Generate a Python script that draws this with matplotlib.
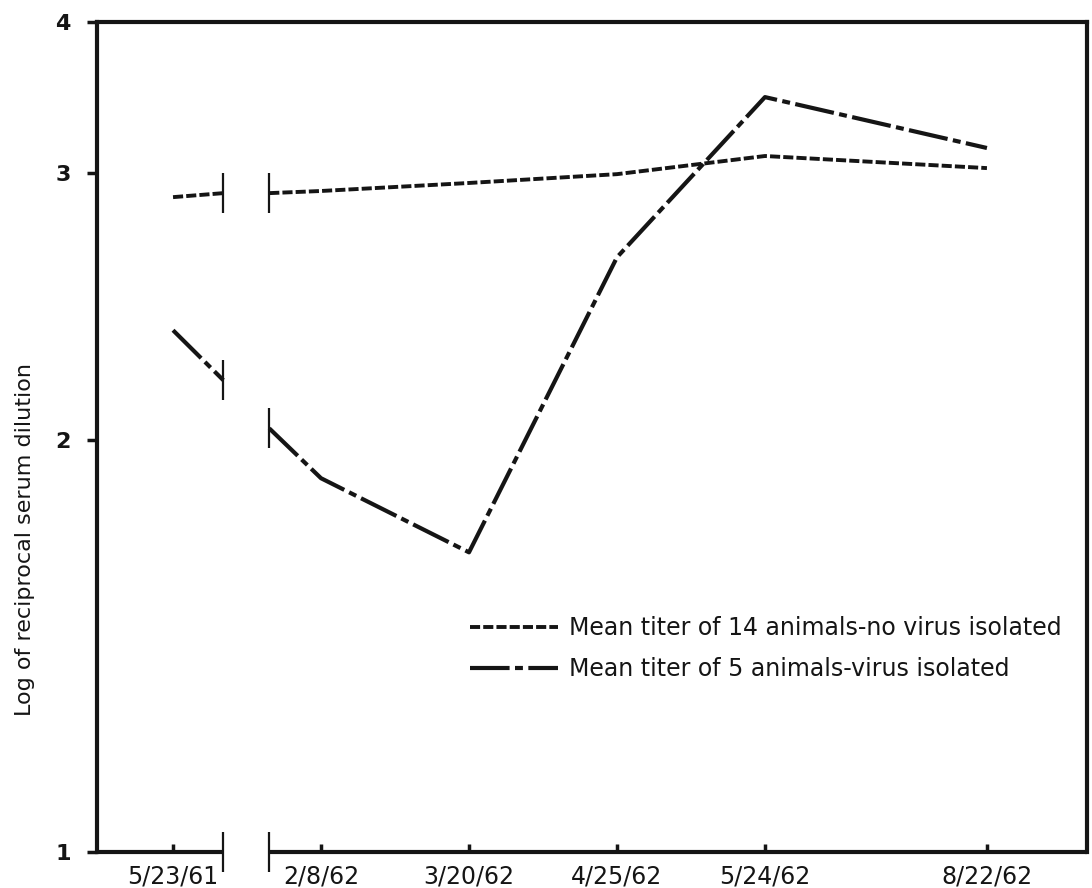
import numpy as np
import matplotlib
matplotlib.use("Agg")
import matplotlib.pyplot as plt

# ---- data ----
dates = ['5/23/61', '2/8/62', '3/20/62', '4/25/62', '5/24/62', '8/22/62']
date_pos = [0, 1, 2, 3, 4, 5.5]      # spacing along the x axis
gap = (0.34, 0.65)                   # broken section between 1961 and 1962

# mean log titers
no_virus = [2.91, 2.933, 2.963, 2.996, 3.113, 3.033]
no_virus_gap = [2.925, 2.925]        # where the line is cut at the break
virus = [2.412, 1.908, 1.728, 2.685, 3.503, 3.166]
virus_gap = [2.225, 2.045]

y_ticks = [1, 2, 3, 4]
# the printed y axis is not evenly spaced: height fraction of each tick
y_tick_frac = [0, 0.496, 0.818, 1.0]

label_nv = 'Mean titer of 14 animals-no virus isolated'
label_v = 'Mean titer of 5 animals-virus isolated'

ink = '#151515'


def fwd(v):
    return np.interp(v, y_ticks, y_tick_frac)


def inv(f):
    return np.interp(f, y_tick_frac, y_ticks)


fig = plt.figure(figsize=(10.92, 8.88), dpi=100)
ax = fig.add_axes([0.0888, 0.0405, 0.9066, 0.9347])
ax.set_yscale('function', functions=(fwd, inv))
ax.set_ylim(1, 4)
xlo, xhi = -0.514, 6.176
ax.set_xlim(xlo, xhi)

style_nv = dict(color=ink, lw=2.8, dashes=(2.6, 0.8))
style_v = dict(color=ink, lw=3.0, dashes=(9.5, 1.3, 1.9, 1.3))
mark = dict(ls='none', marker='|', ms=29, mew=1.6, color=ink)

# 14 animals, no virus
ax.plot([date_pos[0], gap[0]], [no_virus[0], no_virus_gap[0]], **style_nv)
ax.plot([gap[1]] + date_pos[1:], [no_virus_gap[1]] + no_virus[1:], label=label_nv, **style_nv)
ax.plot(gap, no_virus_gap, **mark)

# 5 animals, virus isolated
ax.plot([date_pos[0], gap[0]], [virus[0], virus_gap[0]], **style_v)
ax.plot([gap[1]] + date_pos[1:], [virus_gap[1]] + virus[1:], label=label_v, **style_v)
ax.plot(gap, virus_gap, **mark)

# frame: bottom line is broken at the gap
for side in ['left', 'top', 'right']:
    ax.spines[side].set_linewidth(3)
    ax.spines[side].set_color(ink)
ax.spines['bottom'].set_visible(False)
for a, b in [(xlo, gap[0]), (gap[1], xhi)]:
    ax.plot([a, b], [1, 1], color=ink, lw=3, clip_on=False, solid_capstyle='butt')
ax.plot(gap, [1, 1], clip_on=False, **mark)

ax.set_xticks(date_pos, dates)
ax.set_yticks(y_ticks, [str(t) for t in y_ticks])
ax.yaxis.set_minor_locator(matplotlib.ticker.NullLocator())
ax.tick_params(axis='x', direction='in', length=6, width=2.5, pad=9,
               labelsize=17, colors=ink)
ax.tick_params(axis='y', direction='out', length=7, width=2.5, pad=12,
               labelsize=16, colors=ink)
for t in ax.get_yticklabels():
    t.set_fontweight('bold')

ax.set_ylabel('Log of reciprocal serum dilution', fontsize=16, color=ink)
ax.yaxis.set_label_coords(-0.0626, 0.376)

ax.legend(loc='upper left', bbox_to_anchor=(0.377, 0.284), frameon=False,
          fontsize=17, handlelength=3.7, handletextpad=0.5, labelspacing=0.72,
          borderpad=0, borderaxespad=0, labelcolor=ink)

fig.savefig('out.png', dpi=100, facecolor='white')
